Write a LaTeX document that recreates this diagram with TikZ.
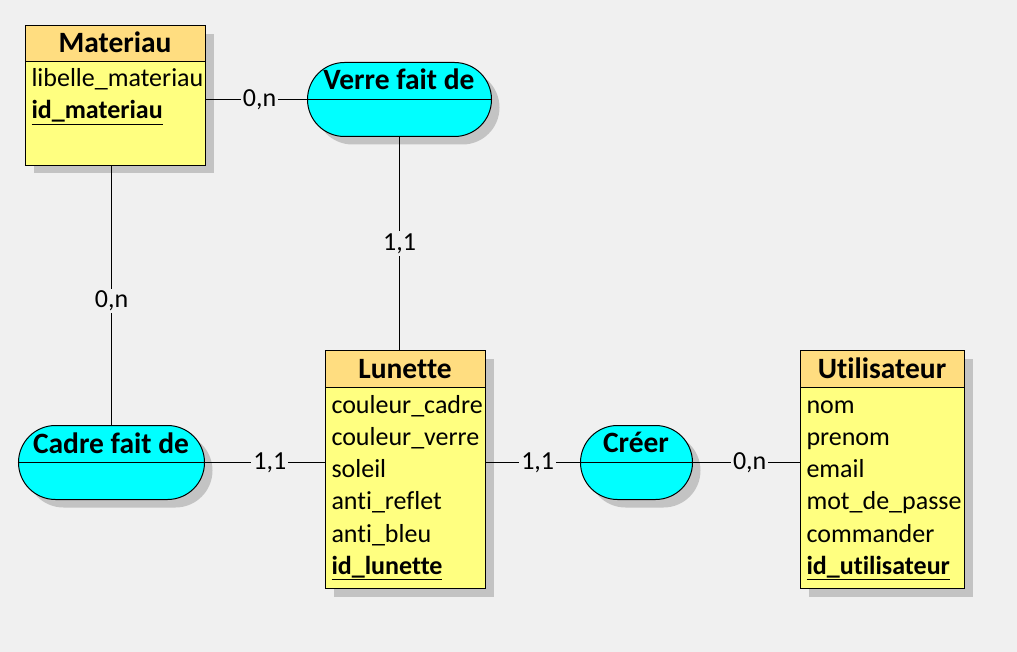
\documentclass[tikz,border=0pt]{standalone}
\usepackage{fontspec}
\setmainfont{Carlito}[Ligatures=NoCommon]
\usetikzlibrary{shadows}

\definecolor{bgcol}{HTML}{F0F0F0}
\definecolor{headcol}{HTML}{FFDD80}
\definecolor{bodycol}{HTML}{FFFF80}
\definecolor{assoccol}{HTML}{00FFFF}
\definecolor{shadowcol}{HTML}{C3C3C3}

\begin{document}
\begin{tikzpicture}[x=1pt, y=-1pt, line width=1pt,
    entity/.style={draw, fill=bodycol, anchor=north west, inner sep=0pt,
        drop shadow={shadow xshift=8pt, shadow yshift=-8pt, fill=shadowcol, opacity=1}},
    assoc/.style={draw, fill=assoccol, anchor=north west, inner sep=0pt, rounded corners=37pt,
        drop shadow={shadow xshift=8pt, shadow yshift=-8pt, fill=shadowcol, opacity=1}},
    title/.style={anchor=base, inner sep=0pt, font=\fontsize{29.5}{35}\selectfont\bfseries},
    attr/.style={anchor=base west, inner sep=0pt, font=\fontsize{26}{32}\selectfont},
    idattr/.style={attr, font=\fontsize{26}{32}\selectfont\bfseries},
    card/.style={fill=bgcol, inner sep=2pt, font=\fontsize{26}{30}\selectfont}]

    % Background
    \fill[bgcol] (0,0) rectangle (1017,652);
    \useasboundingbox (0,0) rectangle (1017,652);

    % Entities
    \node[entity, minimum width=180pt, minimum height=139pt] (mat) at (25,26) {};
    \draw[fill=headcol] (mat.north west) rectangle ++(180,36);
    \node[title] (mat-t) at (115,53) {Materiau};
    \node[attr] (mat-1) at (31,87) {libelle\_materiau};
    \node[idattr] (mat-id) at (31,119) {\underline{id\_materiau}};

    \node[entity, minimum width=160pt, minimum height=238pt] (lun) at (325,350) {};
    \draw[fill=headcol] (lun.north west) rectangle ++(160,37);
    \node[title] (lun-t) at (405,378) {Lunette};
    \foreach \t [count=\i] in {couleur\_cadre, couleur\_verre, soleil, anti\_reflet, anti\_bleu}
        \node[attr] (lun-\i) at (331,380.7+32.3*\i) {\t};
    \node[idattr] (lun-id) at (331,574.5) {\underline{id\_lunette}};

    \node[entity, minimum width=164pt, minimum height=238pt] (util) at (800,350) {};
    \draw[fill=headcol] (util.north west) rectangle ++(164,37);
    \node[title] (util-t) at (882,378) {Utilisateur};
    \foreach \t [count=\i] in {nom, prenom, email, mot\_de\_passe, commander}
        \node[attr] (util-\i) at (806,380.7+32.3*\i) {\t};
    \node[idattr] (util-id) at (806,574.5) {\underline{id\_utilisateur}};

    % Associations
    \node[assoc, minimum width=184pt, minimum height=74pt] (verre) at (307,62) {};
    \draw (verre.west) -- (verre.east);
    \node[title] (verre-t) at (399,90) {Verre fait de};

    \node[assoc, minimum width=186pt, minimum height=74pt] (cadre) at (18,425) {};
    \draw (cadre.west) -- (cadre.east);
    \node[title] (cadre-t) at (111,453) {Cadre fait de};

    \node[assoc, minimum width=112pt, minimum height=74pt] (creer) at (580,425) {};
    \draw (creer.west) -- (creer.east);
    \node[title] (creer-t) at (636,452) {Créer};

    % Links
    \draw (verre.west -| mat.east) -- node[card, pos=0.53] {0,n} (verre.west);
    \draw (verre.south) -- node[card] {1,1} (verre.south |- lun.north);
    \draw (cadre.north |- mat.south) -- node[card, pos=0.52] {0,n} (cadre.north);
    \draw (cadre.east) -- node[card, pos=0.54] {1,1} (cadre.east -| lun.west);
    \draw (creer.west -| lun.east) -- node[card, pos=0.55] {1,1} (creer.west);
    \draw (creer.east) -- node[card, pos=0.53] {0,n} (creer.east -| util.west);
\end{tikzpicture}
\end{document}
